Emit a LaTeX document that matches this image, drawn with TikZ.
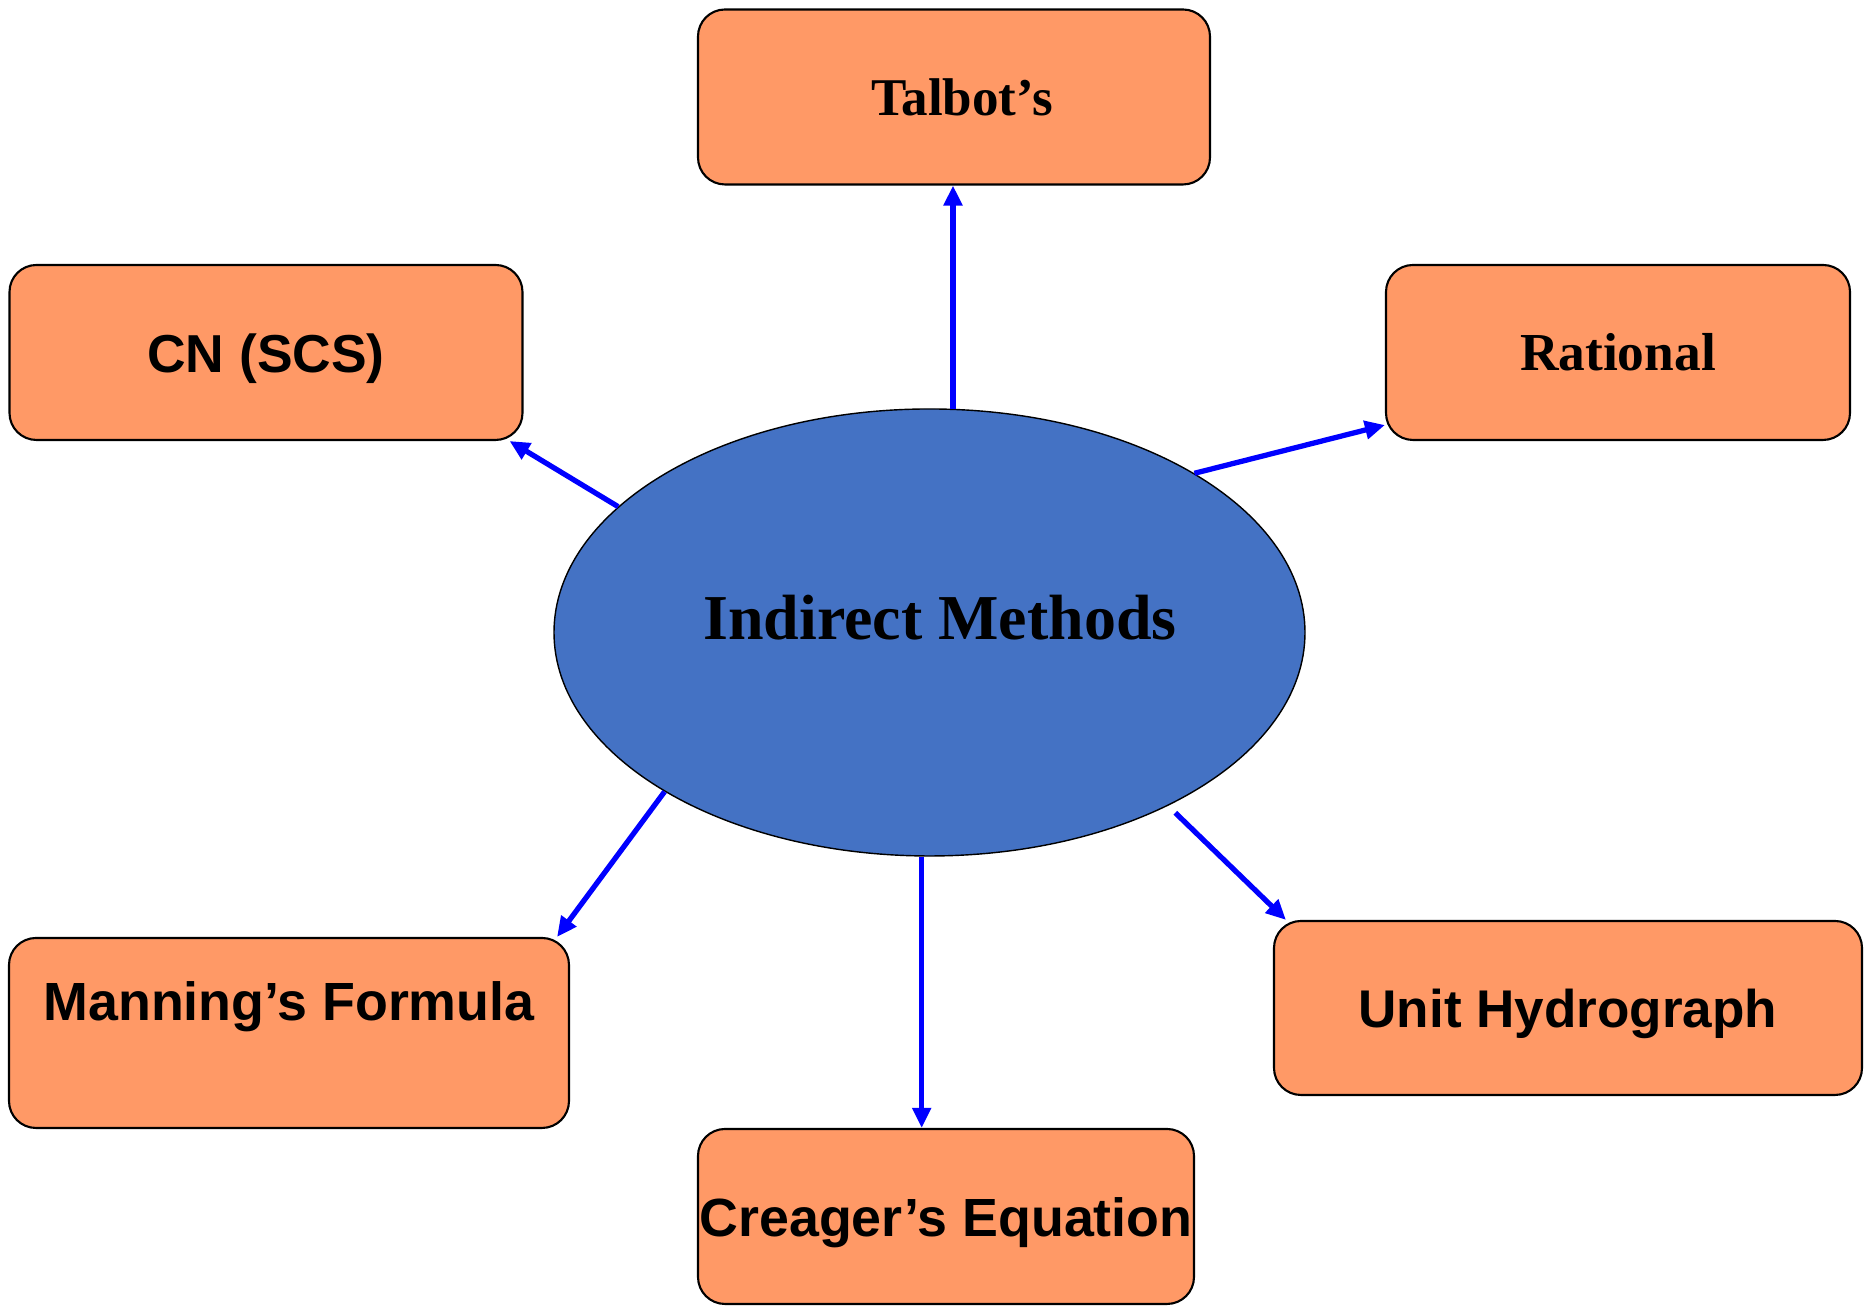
\documentclass[tikz,border=0pt]{standalone}
\usepackage{fontspec}
\setmainfont{Liberation Serif}
\setsansfont{Liberation Sans}
\usetikzlibrary{shapes.geometric,arrows.meta}
\definecolor{boxorange}{RGB}{255,153,102}
\definecolor{hubblue}{RGB}{68,114,196}
\definecolor{linkblue}{RGB}{0,0,255}

\begin{document}
\begin{tikzpicture}[
    method/.style={draw, line width=0.6pt, fill=boxorange, rounded corners=0.27cm,
        inner sep=0pt, minimum height=1.75cm},
    serifbf/.style={font=\fontsize{#1}{#1}\selectfont\bfseries},
    sansbf/.style={font=\fontsize{#1}{#1}\selectfont\sffamily\bfseries,
        text height=0.52cm, text depth=0.12cm},
    link/.style={draw=linkblue, line width=1.5pt, -{Triangle[length=0.2cm,width=0.18cm]}}
]
    \useasboundingbox (0,0) rectangle (18.64,13.06);

    % Centre ellipse
    \node[ellipse, draw, line width=0.4pt, fill=hubblue, minimum width=7.51cm,
        minimum height=4.47cm, inner sep=0pt, serifbf=18.2pt, text depth=0.31cm]
        (hub) at (9.295,6.735) {\hspace*{0.21cm}Indirect Methods};

    % Method boxes
    \node[method, minimum width=5.12cm, serifbf=15.1pt] (talbot) at (9.54,12.09) {\hspace*{0.16cm}Talbot’s};
    \node[method, minimum width=5.13cm, sansbf=15.2pt] (cn) at (2.66,9.535) {CN (SCS)};
    \node[method, minimum width=4.64cm, serifbf=15.2pt] (rational) at (16.18,9.535) {Rational};
    \node[method, minimum width=5.6cm, minimum height=1.9cm, sansbf=15.3pt, text depth=0.76cm]
        (manning) at (2.89,2.73) {Manning’s Formula};
    \node[method, minimum width=4.96cm, sansbf=15.3pt] (creager) at (9.46,0.895) {Creager’s Equation};
    \node[method, minimum width=5.88cm, minimum height=1.74cm, sansbf=15.1pt] (unit) at (15.68,2.98) {Unit Hydrograph};

    % Arrows out of the ellipse
    \draw[link] (hub.84) -- (hub.84 |- talbot.south);
    \draw[link] (hub.158) -- ([xshift=-0.14cm]cn.south east);
    \draw[link] (hub.31) -- ([yshift=0.16cm]rational.south west);
    \draw[link] (hub.211) -- ([xshift=-0.13cm]manning.north east);
    \draw[link] (hub.268) -- (hub.268 |- creager.north);
    \draw[link, shorten <=0.1cm] (hub.324) -- ([xshift=0.13cm]unit.north west);
\end{tikzpicture}
\end{document}
